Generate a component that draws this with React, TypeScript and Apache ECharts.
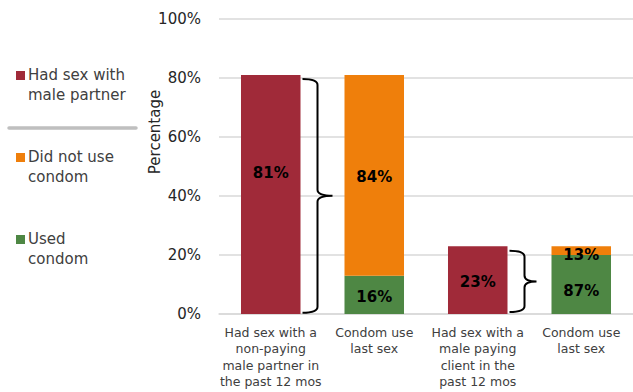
import React, { useEffect, useRef } from "react";
import * as echarts from "echarts";

const categories = [
  "Had sex with a\nnon-paying\nmale partner in\nthe past 12 mos",
  "Condom use\nlast sex",
  "Had sex with a\nmale paying\nclient in the\npast 12 mos",
  "Condom use\nlast sex",
];
const hadSex = [81, 23]; // % had sex with male partner (categories 0 and 2)
const usedCondom = [16, 87]; // share of those, used condom (categories 1 and 3)
const noCondom = [84, 13]; // share of those, did not use condom
const yTicks = [0, 20, 40, 60, 80, 100];
// brackets: [category index, top value, bottom value]
const brackets = [
  [0, 79.7, 0.4],
  [2, 21.4, 0.7],
];

const RED = "#A02A39";
const ORANGE = "#EF7F0B";
const GREEN = "#4E8744";
const FONT = "DejaVu Sans";

export default function App() {
  const ref = useRef<HTMLDivElement>(null);
  useEffect(() => {
    if (!ref.current) return;
    const chart = echarts.init(ref.current, null, { renderer: "svg" });

    const redData = [
      { value: hadSex[0], label: { offset: [0, -22] } },
      "-",
      { value: hadSex[1], label: { offset: [0, 2] } },
      "-",
    ];
    const greenData = [
      "-",
      { value: (hadSex[0] * usedCondom[0]) / 100, share: usedCondom[0], label: { offset: [0, 2] } },
      "-",
      { value: (hadSex[1] * usedCondom[1]) / 100, share: usedCondom[1], label: { offset: [0, 7] } },
    ];
    const orangeData = [
      "-",
      { value: (hadSex[0] * noCondom[0]) / 100, share: noCondom[0], label: { offset: [0, 2] } },
      "-",
      { value: (hadSex[1] * noCondom[1]) / 100, share: noCondom[1], label: { offset: [0, 4] } },
    ];

    const barLabel = {
      show: true,
      position: "inside",
      color: "#000",
      fontFamily: FONT,
      fontWeight: "bold",
      fontSize: 15,
    };

    const legendItems = [
      { color: RED, lines: "Had sex with\nmale partner", y: 71 },
      { color: ORANGE, lines: "Did not use\ncondom", y: 153 },
      { color: GREEN, lines: "Used\ncondom", y: 235 },
    ];
    const graphics: any[] = [];
    legendItems.forEach((it) => {
      graphics.push({
        type: "rect",
        shape: { x: 16, y: it.y, width: 9, height: 9 },
        style: { fill: it.color },
      });
      graphics.push({
        type: "text",
        x: 28,
        y: it.y - 6,
        style: {
          text: it.lines,
          fontFamily: FONT,
          fontSize: 15,
          lineHeight: 20,
          fill: "#404040",
          textVerticalAlign: "top",
        },
      });
    });
    graphics.push({
      type: "line",
      shape: { x1: 9, y1: 128, x2: 136, y2: 128 },
      style: { stroke: "#BFBFBF", lineWidth: 3.5, lineCap: "round" },
    });
    graphics.push({
      type: "text",
      x: 155,
      y: 132,
      rotation: Math.PI / 2,
      style: {
        text: "Percentage",
        fontFamily: FONT,
        fontSize: 15,
        fill: "#262626",
        textAlign: "center",
        textVerticalAlign: "middle",
      },
    });

    chart.setOption({
      animation: false,
      grid: { left: 219, top: 19, width: 417, bottom: 78 },
      graphic: graphics,
      xAxis: {
        type: "category",
        data: categories,
        axisLine: { lineStyle: { color: "#D9D9D9", width: 1.5 } },
        axisTick: { show: false },
        axisLabel: {
          interval: 0,
          color: "#404040",
          fontFamily: FONT,
          fontSize: 12.5,
          lineHeight: 16.5,
          margin: 10,
        },
      },
      yAxis: {
        type: "value",
        min: yTicks[0],
        max: yTicks[yTicks.length - 1],
        interval: 20,
        axisLine: { show: false },
        axisTick: { show: false },
        splitLine: { lineStyle: { color: "#D9D9D9", width: 1.5 } },
        axisLabel: {
          formatter: "{value}%",
          color: "#262626",
          fontFamily: FONT,
          fontSize: 15,
          margin: 18,
        },
      },
      series: [
        {
          name: "Had sex with male partner",
          type: "bar",
          stack: "all",
          barWidth: "57.5%",
          data: redData,
          itemStyle: { color: RED },
          label: { ...barLabel, formatter: "{c}%" },
        },
        {
          name: "Used condom",
          type: "bar",
          stack: "all",
          barWidth: "57.5%",
          data: greenData,
          itemStyle: { color: GREEN },
          label: { ...barLabel, formatter: (p: any) => p.data.share + "%" },
        },
        {
          name: "Did not use condom",
          type: "bar",
          stack: "all",
          barWidth: "57.5%",
          data: orangeData,
          itemStyle: { color: ORANGE },
          label: { ...barLabel, formatter: (p: any) => p.data.share + "%" },
        },
        {
          type: "custom",
          silent: true,
          z: 10,
          encode: { x: 0, y: [1, 2] },
          data: brackets,
          renderItem: (params: any, api: any) => {
            const c = api.value(0);
            const top = api.coord([c, api.value(1)]);
            const bot = api.coord([c, api.value(2)]);
            const band = api.size([1, 0])[0];
            const x0 = top[0] + band * 0.2875 + 2;
            const x1 = x0 + 15;
            const x2 = x1 + (c === 0 ? 15 : 12);
            const yT = top[1];
            const yB = bot[1];
            const yM = (yT + yB) / 2;
            const r = 6;
            const d =
              `M${x0},${yT} Q${x1},${yT} ${x1},${yT + r} L${x1},${yM - r} ` +
              `Q${x1},${yM} ${x2},${yM} Q${x1},${yM} ${x1},${yM + r} ` +
              `L${x1},${yB - r} Q${x1},${yB} ${x0},${yB}`;
            return {
              type: "path",
              shape: { pathData: d },
              style: { stroke: "#000", fill: "none", lineWidth: 2 },
            };
          },
        },
      ],
    });
    return () => chart.dispose();
  }, []);
  return (
    <div
      ref={ref}
      style={{ position: "fixed", left: 0, top: 0, width: 633, height: 392, background: "#fff" }}
    />
  );
}
